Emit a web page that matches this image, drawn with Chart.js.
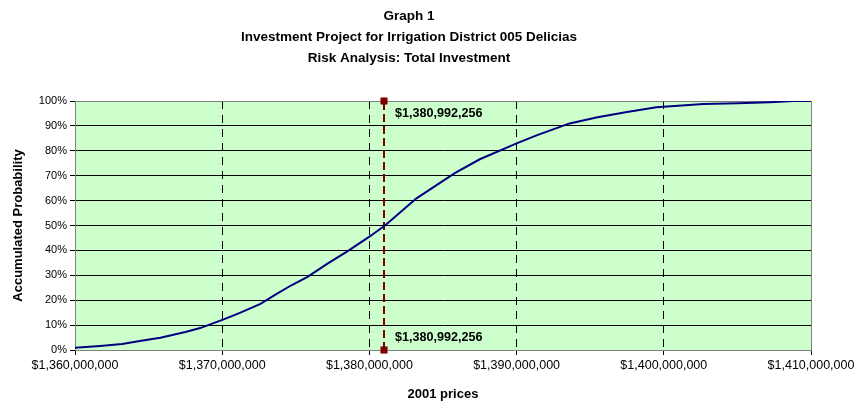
<!DOCTYPE html>
<html>
<head>
<meta charset="utf-8">
<script src="https://cdn.jsdelivr.net/npm/chart.js@4"></script>
<style>
  html, body { margin: 0; padding: 0; background: #fff; }
  #wrap { width: 858px; height: 402px; }
</style>
</head>
<body>
<div id="wrap"><canvas id="riskChart" width="858" height="402"></canvas></div>
<script>
// investment values (pesos, 2001 prices) and cumulative probability (%)
const investment = [
    1360.0e6, 1361.7e6, 1363.2e6, 1364.4e6, 1365.8e6, 1367.5e6, 1368.5e6, 1370.1e6,
    1371.2e6, 1372.6e6, 1373.7e6, 1374.7e6, 1375.8e6, 1377.1e6, 1378.5e6, 1380.0e6,
    1381.1e6, 1383.2e6, 1385.8e6, 1387.5e6, 1390.0e6, 1391.4e6, 1393.6e6, 1395.5e6,
    1397.5e6, 1399.5e6, 1402.7e6, 1405.0e6, 1407.2e6, 1408.8e6, 1410.0e6
];
const accumulated = [
    0.9, 1.6, 2.4, 3.6, 4.9, 7.2, 8.8, 12.3,
    14.9, 18.5, 22.5, 26.0, 29.4, 34.5, 39.6, 45.5,
    50.2, 60.9, 71.0, 76.6, 83.0, 86.3, 91.0, 93.5,
    95.6, 97.5, 98.8, 99.1, 99.5, 100, 100
];
const meanValue = 1380992256;
const meanLineY = [0, 100];
const titleLines = ['Graph 1', 'Investment Project for Irrigation District 005 Delicias', 'Risk Analysis: Total Investment'];
const xTicks = [1360e6, 1370e6, 1380e6, 1390e6, 1400e6, 1410e6];

const money = v => '$' + Math.round(v).toLocaleString('en-US');
const FONT = '"Liberation Sans", Arial, sans-serif';

// green plot background and grey frame
const plotFrame = {
    id: 'plotFrame',
    beforeDraw(chart) {
        const a = chart.chartArea;
        const ctx = chart.ctx;
        ctx.save();
        ctx.fillStyle = '#CCFFCC';
        ctx.fillRect(a.left, a.top, a.right - a.left, a.bottom - a.top);
        ctx.restore();
    },
    beforeDatasetsDraw(chart) {
        const a = chart.chartArea;
        const ctx = chart.ctx;
        ctx.save();
        ctx.strokeStyle = '#808080';
        ctx.lineWidth = 1;
        ctx.strokeRect(a.left + 0.5, a.top + 0.5, a.right - a.left, a.bottom - a.top);
        ctx.restore();
    }
};

// value labels next to the marker line
const meanLabels = {
    id: 'meanLabels',
    afterDatasetsDraw(chart) {
        const xs = chart.scales.x;
        const ys = chart.scales.y;
        const ctx = chart.ctx;
        const px = xs.getPixelForValue(meanValue);
        ctx.save();
        ctx.font = 'bold 12.6px ' + FONT;
        ctx.fillStyle = '#000';
        ctx.textBaseline = 'middle';
        ctx.fillText(money(meanValue), px + 11, ys.getPixelForValue(95));
        ctx.fillText(money(meanValue), px + 11, ys.getPixelForValue(5));
        ctx.restore();
    }
};

const ctx = document.getElementById('riskChart').getContext('2d');
const riskChart = new Chart(ctx, {
    type: 'line',
    data: {
        datasets: [{
            label: 'Accumulated Probability',
            data: investment.map((v, i) => ({ x: v, y: accumulated[i] })),
            borderColor: '#000080',
            borderWidth: 2,
            pointRadius: 0,
            tension: 0,
            fill: false
        }, {
            label: 'Mean',
            data: meanLineY.map(y => ({ x: meanValue, y: y })),
            borderColor: '#800000',
            backgroundColor: '#800000',
            borderWidth: 2,
            borderDash: [8, 4],
            pointStyle: 'rect',
            pointRadius: 5,
            pointBorderWidth: 0,
            clip: false
        }]
    },
    options: {
        responsive: false,
        animation: false,
        layout: { padding: { left: 7, right: 47, top: 0, bottom: 0 } },
        plugins: {
            legend: { display: false },
            tooltip: { enabled: false },
            title: {
                display: true,
                text: titleLines,
                color: '#000',
                font: { family: FONT, size: 13.5, weight: 'bold', lineHeight: '21px' },
                padding: { top: 6, bottom: 32 }
            }
        },
        scales: {
            x: {
                type: 'linear',
                min: 1360e6,
                max: 1410e6,
                afterBuildTicks: scale => { scale.ticks = xTicks.map(v => ({ value: v })); },
                afterFit: scale => { scale.height = 52; },
                ticks: {
                    color: '#000',
                    padding: 3,
                    maxRotation: 0,
                    font: { family: FONT, size: 12.5 },
                    callback: v => money(v)
                },
                grid: {
                    color: c => (c.index === 0 || c.index === xTicks.length - 1) ? 'rgba(0,0,0,0)' : '#000',
                    tickColor: '#000',
                    tickLength: 5
                },
                border: { color: '#000', dash: [8, 6] },
                title: {
                    display: true,
                    text: '2001 prices',
                    color: '#000',
                    font: { family: FONT, size: 13, weight: 'bold' },
                    padding: { top: 0, bottom: 0 }
                }
            },
            y: {
                min: 0,
                max: 100,
                afterFit: scale => { scale.width = 68; },
                ticks: {
                    stepSize: 10,
                    color: '#000',
                    padding: 3,
                    font: { family: FONT, size: 11 },
                    callback: v => v + '%'
                },
                grid: { color: '#000', tickColor: '#000', tickLength: 5 },
                border: { color: '#808080' },
                title: {
                    display: true,
                    text: 'Accumulated Probability',
                    color: '#000',
                    font: { family: FONT, size: 13, weight: 'bold' },
                    padding: { top: 4, bottom: 4 }
                }
            }
        }
    },
    plugins: [plotFrame, meanLabels]
});
</script>
</body>
</html>
